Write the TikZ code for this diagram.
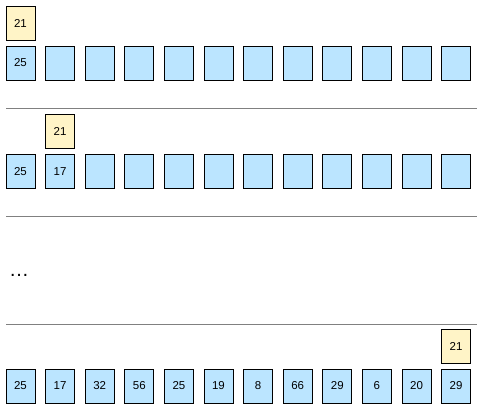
\documentclass[tikz,border=0pt]{standalone}
\usepackage{fontspec}
\setmainfont{Liberation Sans}
\usetikzlibrary{positioning}
\definecolor{cellblue}{HTML}{BBE5FF}
\definecolor{keyyellow}{HTML}{FFF4C7}
\definecolor{sepgray}{HTML}{808080}
\tikzset{
  cell/.style={draw=black,line width=0.9pt,fill=cellblue,minimum width=29pt,minimum height=34pt,inner sep=0pt,font=\fontsize{11.5}{13}\selectfont},
  key/.style={cell,fill=keyyellow},
  sep/.style={draw=sepgray,line width=0.9pt}
}

\begin{document}
\begin{tikzpicture}[x=1pt,y=-1pt]
\useasboundingbox (0,0) rectangle (480,411);
% first step
\node[key] (k1) at (20.5,23) {21};
\node[cell] (a1) at (20.5,63) {25};
\node[cell] (a2) at (60.1,63) {};
\node[cell] (a3) at (99.7,63) {};
\node[cell] (a4) at (139.3,63) {};
\node[cell] (a5) at (178.9,63) {};
\node[cell] (a6) at (218.5,63) {};
\node[cell] (a7) at (258.1,63) {};
\node[cell] (a8) at (297.7,63) {};
\node[cell] (a9) at (337.3,63) {};
\node[cell] (a10) at (376.9,63) {};
\node[cell] (a11) at (416.5,63) {};
\node[cell] (a12) at (456.1,63) {};
\coordinate (s1l) at (6,108);
\coordinate (s1r) at (477,108);
\draw[sep] (s1l) -- (s1r);
% second step
\node[key] (k2) at (60.1,131.5) {21};
\node[cell] (b1) at (20.5,171.5) {25};
\node[cell] (b2) at (60.1,171.5) {17};
\node[cell] (b3) at (99.7,171.5) {};
\node[cell] (b4) at (139.3,171.5) {};
\node[cell] (b5) at (178.9,171.5) {};
\node[cell] (b6) at (218.5,171.5) {};
\node[cell] (b7) at (258.1,171.5) {};
\node[cell] (b8) at (297.7,171.5) {};
\node[cell] (b9) at (337.3,171.5) {};
\node[cell] (b10) at (376.9,171.5) {};
\node[cell] (b11) at (416.5,171.5) {};
\node[cell] (b12) at (456.1,171.5) {};
\coordinate (s2l) at (6,216);
\coordinate (s2r) at (477,216);
\draw[sep] (s2l) -- (s2r);
% skipped steps
\node[font=\fontsize{20}{22}\selectfont,anchor=base west,inner sep=0pt] (dots) at (9,277) {\dots};
\coordinate (s3l) at (6,324);
\coordinate (s3r) at (477,324);
\draw[sep] (s3l) -- (s3r);
% last step
\node[key] (k3) at (456.1,346) {21};
\node[cell] (d1) at (20.5,386) {25};
\node[cell] (d2) at (60.1,386) {17};
\node[cell] (d3) at (99.7,386) {32};
\node[cell] (d4) at (139.3,386) {56};
\node[cell] (d5) at (178.9,386) {25};
\node[cell] (d6) at (218.5,386) {19};
\node[cell] (d7) at (258.1,386) {8};
\node[cell] (d8) at (297.7,386) {66};
\node[cell] (d9) at (337.3,386) {29};
\node[cell] (d10) at (376.9,386) {6};
\node[cell] (d11) at (416.5,386) {20};
\node[cell] (d12) at (456.1,386) {29};
\end{tikzpicture}
\end{document}
